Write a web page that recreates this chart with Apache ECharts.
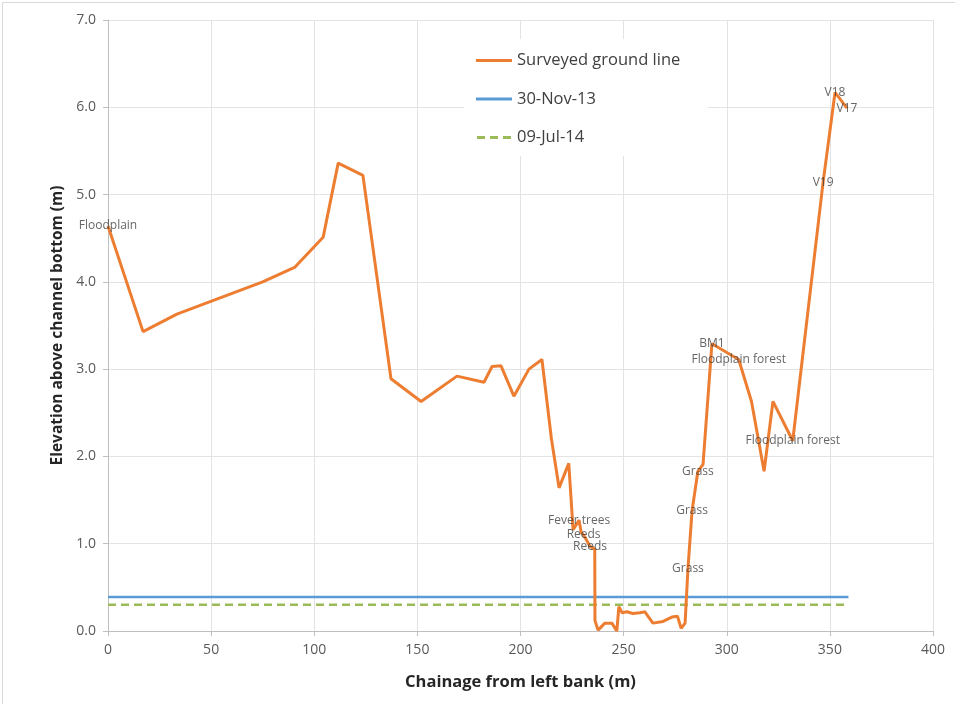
<!DOCTYPE html>
<html><head><meta charset="utf-8">
<script src="https://cdn.jsdelivr.net/npm/echarts@6/dist/echarts.min.js"></script>
<style>html,body{margin:0;padding:0;background:#fff}#c{width:955px;height:704px}</style>
</head><body><div id="c"></div>
<script>
// Surveyed ground line: chainage (m), elevation (m), label
const groundX = [0, 17.0, 33.4, 75.0, 90.7, 104.3, 111.6, 123.6, 137.2, 151.8, 169.2, 182.3, 186.2, 190.5, 196.8, 204.1, 210.4, 215.0, 218.7, 223.4, 225.5, 228.4, 229.4, 230.6, 233.7, 236.0, 236.1, 237.6, 240.9, 244.3, 246.7, 247.7, 249.2, 251.6, 254.5, 257.9, 260.3, 264.2, 269.1, 273.4, 276.1, 277.9, 279.8, 281.2, 283.2, 286.0, 288.5, 292.8, 305.8, 312.0, 318.1, 322.4, 332.0, 346.7, 352.5, 358.3];
const groundY = [4.64, 3.43, 3.63, 4.00, 4.17, 4.51, 5.36, 5.22, 2.89, 2.63, 2.92, 2.85, 3.03, 3.04, 2.69, 3.00, 3.11, 2.20, 1.64, 1.92, 1.16, 1.27, 1.13, 1.10, 0.97, 0.94, 0.12, 0.01, 0.09, 0.09, 0.00, 0.28, 0.21, 0.22, 0.20, 0.21, 0.22, 0.09, 0.11, 0.16, 0.17, 0.03, 0.09, 0.72, 1.38, 1.83, 1.91, 3.29, 3.11, 2.63, 1.83, 2.63, 2.18, 5.14, 6.17, 5.99];
const groundLabels = ["Floodplain", "", "", "", "", "", "", "", "", "", "", "", "", "", "", "", "", "", "", "", "", "Fever trees", "", "Reeds", "Reeds", "", "", "", "", "", "", "", "", "", "", "", "", "", "", "", "", "", "", "Grass", "Grass", "Grass", "", "BM1", "Floodplain forest", "", "", "", "Floodplain forest", "V19", "V18", "V17"];
// Water levels
const nov13X = [0, 359];
const nov13Y = [0.39, 0.39];
const jul14X = [0, 359];
const jul14Y = [0.30, 0.30];
const seriesNames = ["Surveyed ground line", "30-Nov-13", "09-Jul-14"];
const xTicks = {min: 0, max: 400, interval: 50};
const yTicks = {min: 0, max: 7, interval: 1};

const FONT = "'Open Sans', 'Noto Sans', sans-serif";
const groundData = groundX.map((x, i) => [x, groundY[i]]);
const labelData = [];
groundX.forEach((x, i) => {
  if (groundLabels[i]) labelData.push({value: [x, groundY[i]], name: groundLabels[i]});
});
const SOLID = 'path://M0,0 L36,0 L36,3 L0,3 Z';
const DASHED = 'path://M0,0 L8,0 L8,3 L0,3 Z M13,0 L21,0 L21,3 L13,3 Z M26,0 L34,0 L34,3 L26,3 Z';
const chart = echarts.init(document.getElementById('c'), null, {renderer: 'canvas'});
chart.setOption({
  backgroundColor: '#fff',
  animation: false,
  graphic: [{type: 'rect', left: 0, top: 0, shape: {width: 954, height: 703},
    style: {fill: 'none', stroke: '#d9d9d9', lineWidth: 1}, silent: true, z: -10}],
  grid: {left: 108, right: 22, top: 20, bottom: 73, containLabel: false},
  legend: {
    orient: 'vertical', left: 464, top: 39,
    backgroundColor: '#fff', padding: [13, 28, 10, 12],
    itemWidth: 36, itemHeight: 3, itemGap: 21.5,
    textStyle: {fontSize: 16.5, color: '#404040', fontFamily: FONT},
    data: [
      {name: seriesNames[0], icon: SOLID},
      {name: seriesNames[1], icon: SOLID},
      {name: seriesNames[2], icon: DASHED}
    ],
    z: 10
  },
  xAxis: {
    type: 'value', min: xTicks.min, max: xTicks.max, interval: xTicks.interval,
    name: 'Chainage from left bank (m)', nameLocation: 'middle', nameGap: 43,
    nameTextStyle: {fontSize: 16.5, fontWeight: 'bold', color: '#262626', fontFamily: FONT},
    axisLine: {show: true, lineStyle: {color: '#bfbfbf'}},
    axisTick: {show: true, length: 5, lineStyle: {color: '#bfbfbf'}},
    axisLabel: {fontSize: 14, color: '#595959', margin: 12, fontFamily: FONT},
    splitLine: {show: true, lineStyle: {color: '#e3e3e3'}}
  },
  yAxis: {
    type: 'value', min: yTicks.min, max: yTicks.max, interval: yTicks.interval,
    name: 'Elevation above channel bottom (m)', nameLocation: 'middle', nameGap: 39,
    nameTextStyle: {fontSize: 15.5, fontWeight: 'bold', color: '#262626', fontFamily: FONT},
    axisLine: {show: true, lineStyle: {color: '#bfbfbf'}},
    axisTick: {show: true, length: 5, lineStyle: {color: '#bfbfbf'}},
    axisLabel: {fontSize: 14, color: '#595959', margin: 12, fontFamily: FONT,
      formatter: v => v.toFixed(1)},
    splitLine: {show: true, lineStyle: {color: '#e3e3e3'}}
  },
  series: [
    {name: seriesNames[0], type: 'line', data: groundData, symbol: 'none',
      lineStyle: {color: '#ED7D31', width: 3}, itemStyle: {color: '#ED7D31'}, z: 3},
    {name: seriesNames[1], type: 'line', data: nov13X.map((x, i) => [x, nov13Y[i]]), symbol: 'none',
      lineStyle: {color: '#5B9BD5', width: 2.5}, itemStyle: {color: '#5B9BD5'}, z: 2},
    {name: seriesNames[2], type: 'line', data: jul14X.map((x, i) => [x, jul14Y[i]]), symbol: 'none',
      lineStyle: {color: '#9BBB59', width: 2.5, type: [8, 5]}, itemStyle: {color: '#9BBB59'}, z: 2},
    {name: 'labels', type: 'scatter', data: labelData, symbolSize: 0.1,
      itemStyle: {color: 'rgba(0,0,0,0)'}, z: 5, silent: true,
      label: {show: true, position: 'inside', formatter: p => p.name,
        color: '#404040', fontSize: 12, fontFamily: FONT},
      labelLayout: {hideOverlap: false}}
  ]
});
</script></body></html>
